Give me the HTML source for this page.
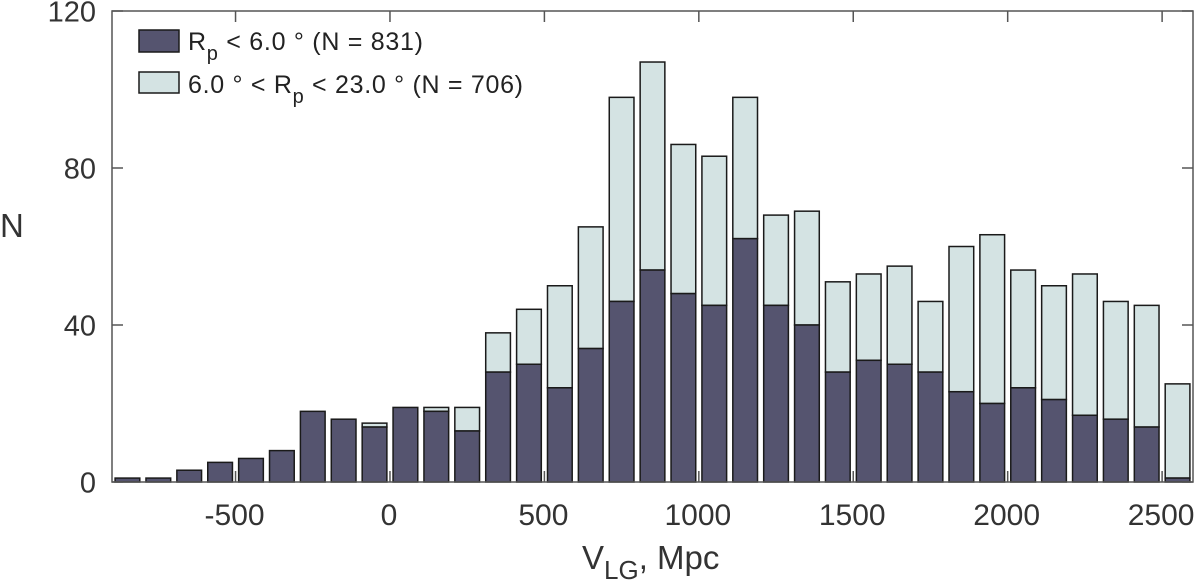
<!DOCTYPE html>
<html><head><meta charset="utf-8"><style>
body{margin:0;background:#fff}
svg{display:block;font-family:"Liberation Sans",Arial,sans-serif}
</style></head><body>
<svg id="chart" width="1200" height="588" viewBox="0 0 1200 588" xmlns="http://www.w3.org/2000/svg">
<g id="bars"></g>
<g id="axes"></g>
<g>
<rect x="139" y="30" width="40" height="22" fill="#55546f" stroke="#1a1a1a" stroke-width="1.5"/>
<text x="188" y="50" font-size="25" fill="#222" textLength="235" lengthAdjust="spacing">R<tspan dy="10" font-size="20">p</tspan><tspan dy="-10"> &lt; 6.0 ° (N = 831)</tspan></text>
<rect x="139" y="72" width="40" height="21" fill="#d4e3e3" stroke="#1a1a1a" stroke-width="1.5"/>
<text x="188" y="93" font-size="25" fill="#222" textLength="335" lengthAdjust="spacing">6.0 ° &lt; R<tspan dy="10" font-size="20">p</tspan><tspan dy="-10"> &lt; 23.0 ° (N = 706)</tspan></text>
</g>
<text x="0" y="237" font-size="33" fill="#333">N</text>
<text x="582" y="569" font-size="33" fill="#333">V<tspan dy="10" font-size="26">LG</tspan><tspan dy="-10">, Mpc</tspan></text>
</svg>
<script>
const centers=[-850,-750,-650,-550,-450,-350,-250,-150,-50,50,150,250,350,450,550,650,750,850,950,1050,1150,1250,1350,1450,1550,1650,1750,1850,1950,2050,2150,2250,2350,2450,2550];
const innerCounts=[1,1,3,5,6,8,18,16,14,19,18,13,28,30,24,34,46,54,48,45,62,45,40,28,31,30,28,23,20,24,21,17,16,14,1];
const totalCounts=[1,1,3,5,6,8,18,16,15,19,19,19,38,44,50,65,98,107,86,83,98,68,69,51,53,55,46,60,63,54,50,53,46,45,25];
const xTicks=[-500,0,500,1000,1500,2000,2500];
const yTicks=[0,40,80,120];
const NS="http://www.w3.org/2000/svg";
const x0=112,x1=1193,y0=482,y1=11,xmin=-900,xmax=2600,ymax=120;
const X=v=>x0+(v-xmin)/(xmax-xmin)*(x1-x0);
const Y=v=>y0-v/ymax*(y0-y1);
function mk(t,a,p){const e=document.createElementNS(NS,t);for(const k in a)e.setAttribute(k,a[k]);p.appendChild(e);return e;}
const bars=document.getElementById('bars'),axes=document.getElementById('axes');
const bw=80;
centers.forEach((c,i)=>{
  const l=X(c-bw/2),w=X(c+bw/2)-l;
  if(totalCounts[i]>innerCounts[i]){
    const r=mk('rect',{x:l,y:Y(totalCounts[i]),width:w,height:Y(innerCounts[i])-Y(totalCounts[i]),fill:'#d4e3e3',stroke:'#1a1a1a','stroke-width':1.5},bars);
    
    
  }
  const r2=mk('rect',{x:l,y:Y(innerCounts[i]),width:w,height:Y(0)-Y(innerCounts[i]),fill:'#55546f',stroke:'#1a1a1a','stroke-width':1.5},bars);
  
  
});
const box=mk('rect',{x:x0,y:y1,width:x1-x0,height:y0-y1,fill:'none',stroke:'#555','stroke-width':1.5},axes);


xTicks.forEach(v=>{
  const x=X(v);
  mk('line',{x1:x,x2:x,y1:y0,y2:y0-11,stroke:'#555','stroke-width':1.5},axes);
  mk('line',{x1:x,x2:x,y1:y1,y2:y1+11,stroke:'#555','stroke-width':1.5},axes);
  const t=mk('text',{x:x-1,y:525,'font-size':30,'text-anchor':'middle',fill:'#333'},axes);
  t.textContent=v;
  
  
});
yTicks.forEach(v=>{
  const y=Y(v);
  mk('line',{x1:x0,x2:x0+11,y1:y,y2:y,stroke:'#555','stroke-width':1.5},axes);
  mk('line',{x1:x1,x2:x1-11,y1:y,y2:y,stroke:'#555','stroke-width':1.5},axes);
  const t=mk('text',{x:96,y:y+10.5,'font-size':29,'text-anchor':'end',fill:'#333'},axes);
  t.textContent=v;
  
  
});
</script>
</body></html>
